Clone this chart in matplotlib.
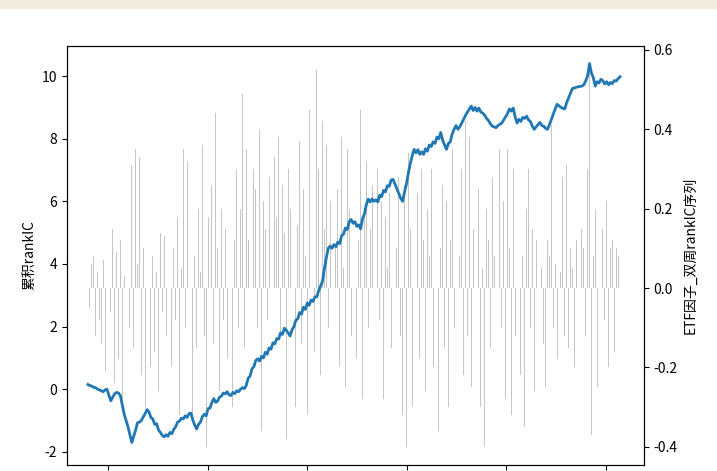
import numpy as np
import matplotlib
matplotlib.use('Agg')
import matplotlib.pyplot as plt
import matplotlib.dates as mdates
import pandas as pd
from matplotlib.patches import Rectangle

plt.rcParams['font.family'] = ['Noto Sans CJK SC', 'DejaVu Sans']
plt.rcParams['axes.unicode_minus'] = False

# biweekly dates
dates = pd.date_range('2011-08-05', periods=280, freq='14D')

# biweekly rank IC (right axis)
ic = [
    0.11, -0.05, 0.06, 0.08, -0.12, 0.04, -0.08, -0.14, 0.07, -0.21,
    0.05, 0.22, -0.06, 0.15, -0.24, 0.09, -0.18, 0.12, -0.28, 0.03,
    -0.31, 0.18, -0.1, 0.31, -0.15, 0.35, 0.06, 0.33, -0.22, 0.1,
    -0.3, 0.05, 0.12, -0.2, 0.08, -0.16, 0.04, -0.26, 0.14, -0.06,
    0.13, -0.12, 0.16, 0.07, -0.2, 0.1, -0.08, 0.18, -0.32, 0.05,
    0.35, -0.1, 0.32, -0.05, 0.1, -0.33, 0.08, -0.15, 0.2, 0.04,
    0.36, -0.12, -0.4, 0.18, 0.08, 0.26, -0.14, 0.44, 0.1, -0.26,
    0.2, -0.08, 0.15, -0.18, 0.22, 0.05, -0.3, 0.12, 0.3, -0.1,
    0.2, 0.49, -0.15, 0.35, 0.12, 0.44, -0.2, 0.3, 0.25, -0.1,
    0.4, -0.36, 0.22, 0.15, -0.08, 0.28, 0.1, -0.24, 0.33, 0.18,
    0.38, -0.12, 0.26, 0.14, -0.38, 0.3, 0.2, -0.2, 0.42, -0.3,
    0.16, 0.37, -0.14, 0.25, 0.08, -0.32, 0.45, 0.12, 0.2, -0.16,
    0.55, 0.3, -0.22, 0.42, 0.15, 0.36, -0.1, 0.22, -0.3, 0.46,
    0.1, 0.25, -0.2, 0.38, 0.05, -0.25, 0.35, 0.2, -0.12, 0.18,
    0.28, -0.18, 0.12, 0.45, -0.28, 0.2, 0.32, -0.1, 0.15, 0.26,
    -0.22, 0.1, 0.3, -0.08, 0.22, -0.28, 0.18, 0.05, 0.24, -0.15,
    0.2, -0.25, 0.1, 0.28, -0.12, -0.32, 0.26, -0.4, 0.34, 0.15,
    -0.3, 0.22, 0.06, 0.24, -0.18, 0.3, 0.12, -0.26, 0.2, 0.08,
    0.3, -0.2, 0.16, 0.32, -0.36, 0.1, 0.26, -0.15, 0.22, -0.3,
    0.12, 0.35, -0.1, 0.2, -0.28, 0.08, 0.3, -0.22, 0.42, -0.12,
    0.38, -0.25, 0.15, -0.2, 0.1, 0.25, -0.3, 0.05, -0.4, 0.2,
    0.12, -0.15, 0.28, 0.08, -0.35, 0.18, 0.35, -0.1, 0.22, -0.28,
    0.35, 0.1, -0.32, 0.3, -0.12, 0.18, 0.26, -0.22, 0.08, -0.35,
    0.2, 0.3, -0.1, 0.15, -0.26, 0.12, 0.22, -0.18, 0.05, -0.14,
    -0.25, 0.12, 0.08, 0.41, -0.1, 0.06, -0.18, 0.15, 0.04, 0.28,
    -0.12, 0.31, -0.15, 0.1, 0.05, -0.2, 0.12, 0.08, -0.06, 0.15,
    0.1, -0.12, 0.3, 0.56, -0.37, 0.08, 0.2, -0.25, 0.35, -0.3,
    0.15, -0.08, 0.22, -0.2, 0.1, 0.12, -0.16, 0.1, 0.08, 0.1,
]

# cumulative rank IC (left axis)
cum_ic = [
    0.15, 0.12, 0.10, 0.06, 0.05, 0.0, -0.02, -0.05, -0.08, -0.02,
    0.0, -0.2, -0.37, -0.25, -0.15, -0.1, -0.12, -0.2, -0.5, -0.8,
    -1.0, -1.2, -1.45, -1.7, -1.5, -1.3, -1.07, -1.05, -1.0, -0.88,
    -0.78, -0.65, -0.72, -0.9, -0.95, -1.12, -1.1, -1.3, -1.38, -1.48,
    -1.52, -1.45, -1.5, -1.38, -1.42, -1.28, -1.2, -1.05, -1.02, -0.92,
    -0.95, -0.85, -0.9, -0.78, -0.76, -0.98, -1.15, -1.27, -1.12, -1.05,
    -0.88, -0.8, -0.85, -0.62, -0.6, -0.42, -0.3, -0.42, -0.38, -0.25,
    -0.22, -0.12, -0.15, -0.08, -0.18, -0.2, -0.1, -0.14, -0.05, -0.08,
    0.0, 0.05, 0.02, 0.12, 0.35, 0.42, 0.65, 0.72, 0.92, 0.97,
    0.9, 1.05, 1.0, 1.18, 1.12, 1.32, 1.28, 1.48, 1.45, 1.62,
    1.6, 1.8, 1.75, 1.95, 1.88, 1.8, 1.7, 1.9, 2.0, 2.2,
    2.25, 2.45, 2.4, 2.62, 2.55, 2.75, 2.68, 2.85, 2.8, 2.95,
    2.95, 3.15, 3.3, 3.45, 3.85, 4.2, 4.5, 4.57, 4.5, 4.62,
    4.55, 4.7, 4.65, 4.9, 4.95, 5.15, 5.1, 5.35, 5.42, 5.3,
    5.35, 5.2, 5.25, 5.12, 5.45, 5.6, 5.9, 6.07, 5.98, 6.08,
    6.0, 6.05, 5.98, 6.2, 6.15, 6.35, 6.3, 6.5, 6.48, 6.68,
    6.7, 6.55, 6.4, 6.25, 6.1, 6.0, 6.3, 6.55, 6.9, 7.2,
    7.45, 7.66, 7.55, 7.65, 7.5, 7.58, 7.5, 7.68, 7.6, 7.8,
    7.75, 7.9, 7.85, 8.05, 8.0, 8.2, 7.95, 7.8, 7.66, 7.85,
    7.9, 8.15, 8.3, 8.42, 8.3, 8.38, 8.5, 8.62, 8.75, 8.85,
    8.95, 9.04, 8.9, 9.0, 8.88, 8.98, 8.85, 8.82, 8.75, 8.65,
    8.58, 8.48, 8.4, 8.38, 8.35, 8.42, 8.46, 8.5, 8.6, 8.7,
    8.8, 8.95, 8.88, 8.98, 8.7, 8.5, 8.62, 8.55, 8.68, 8.65,
    8.72, 8.6, 8.55, 8.4, 8.3, 8.38, 8.45, 8.52, 8.42, 8.4,
    8.33, 8.3, 8.45, 8.62, 8.8, 8.95, 9.1, 9.05, 9.0, 8.97,
    8.95, 9.15, 9.3, 9.45, 9.6, 9.62, 9.64, 9.66, 9.67, 9.68,
    9.72, 9.85, 10.0, 10.4, 10.1, 9.95, 9.68, 9.82, 9.78, 9.9,
    9.85, 9.75, 9.82, 9.72, 9.8, 9.76, 9.86, 9.84, 9.92, 9.98,
]

fig = plt.figure(figsize=(7.17, 4.71), dpi=100)
ax = fig.add_axes([0.0934, 0.0127, 0.8046, 0.8896])
ax2 = ax.twinx()

ax2.bar(dates, ic, width=6, color='#c4c4c4')
ax.plot(dates, cum_ic, color='#1f77b4', lw=2)

# keep the line above the bars
ax.set_zorder(ax2.get_zorder() + 1)
ax.patch.set_visible(False)

ax.set_ylim(-2.42, 10.96)
ax2.set_ylim(-0.446, 0.61)
ax.set_xlim(pd.Timestamp('2011-03-04'), pd.Timestamp('2022-10-07'))
ax.xaxis.set_major_locator(mdates.YearLocator(2))
# date labels fall below the visible crop of the screenshot
ax.tick_params(axis='x', labelbottom=False)

ax.set_ylabel('累积rankIC', fontsize=10)
ax2.set_ylabel('ETF因子_双周rankIC序列', fontsize=10)

# beige strip at the top of the screenshot
fig.patches.append(Rectangle((0, 1 - 8 / 471), 1, 8 / 471, transform=fig.transFigure,
                             color='#f3ecdc', zorder=0))

plt.savefig('out.png', dpi=100)
